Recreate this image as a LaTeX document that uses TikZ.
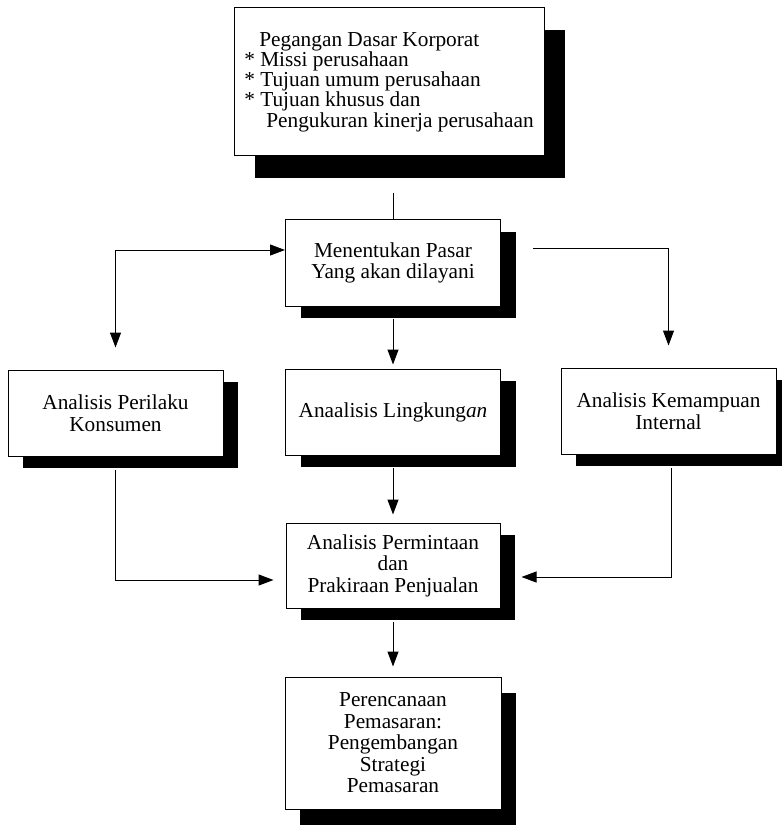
\documentclass[tikz,border=0pt]{standalone}
\usepackage{fontspec}
\setmainfont{Liberation Serif}
\usetikzlibrary{arrows.meta,shadows}
\begin{document}
\begin{tikzpicture}[x=1pt,y=-1pt,
  box/.style={draw, fill=white, line width=1pt, inner sep=0pt, align=center,
    minimum width=215pt, minimum height=86pt,
    font=\fontsize{21.3}{21.5}\selectfont},
  shad/.style 2 args={general shadow={fill=black, shadow xshift=#1, shadow yshift=#2}},
  sbox/.style={box, shad={15pt}{-12pt}},
  link/.style={line width=1pt},
  tip/.tip={Triangle[length=15pt,width=11pt]},
  arr/.style={link, -tip},
  arrs/.style={link, tip-tip}
]
\useasboundingbox (0,0) rectangle (781,826);

% corporate basis
\node[box, minimum width=310pt, minimum height=148pt, align=left,
      shad={21pt}{-22pt}, font=\fontsize{21.3}{20.3}\selectfont]
  (top) at (389,82)
  {\hspace*{15pt}Pegangan Dasar Korporat\\
   * Missi perusahaan\\
   * Tujuan umum perusahaan\\
   * Tujuan khusus dan\\
   \hspace*{22pt}Pengukuran kinerja perusahaan};

% market selection
\node[sbox] (men) at (393,263) {Menentukan Pasar\\Yang akan dilayani};

% analysis row
\node[sbox] (lft) at (115.5,413) {Analisis Perilaku\\Konsumen};
\node[sbox] (ana) at (393,412) {Anaalisis Lingkung\textit{an}};
\node[sbox] (rgt) at (668.5,411) {Analisis Kemampuan\\Internal};

% demand and forecast
\node[sbox, minimum width=214pt, minimum height=85pt] (per) at (393,565.5)
  {Analisis Permintaan\\dan\\Prakiraan Penjualan};

% marketing plan
\node[box, minimum width=216pt, minimum height=132pt, shad={15pt}{-16pt}]
  (plan) at (393,743)
  {Perencanaan\\Pemasaran:\\Pengembangan\\Strategi\\Pemasaran};

% connectors
\coordinate (ts) at (393,193);
\draw[link] (ts) -- (men.north);

\coordinate (la) at ([yshift=22pt]lft.north);
\coordinate (lb) at (115.5,250);
\draw[arrs] (la) -- (lb) -- (men.west |- lb);

\coordinate (ra) at (533,248);
\coordinate (rb) at ([yshift=22pt]rgt.north);
\draw[arr] (ra) -| (rb);

\draw[arr, shorten >=4pt] ([yshift=-12pt]men.south) -- (ana.north);
\draw[arr, shorten >=8pt] ([yshift=-12pt]ana.south) -- (per.north);
\draw[arr, shorten >=10pt] ([yshift=-13pt]per.south) -- (plan.north);

\draw[arr, shorten >=12pt] ([yshift=-13pt]lft.south) |- ([yshift=-14.5pt]per.west);
\draw[arr, shorten >=21pt] ([xshift=2.5pt,yshift=-13pt]rgt.south) |- ([yshift=-11.5pt]per.east);
\end{tikzpicture}
\end{document}
